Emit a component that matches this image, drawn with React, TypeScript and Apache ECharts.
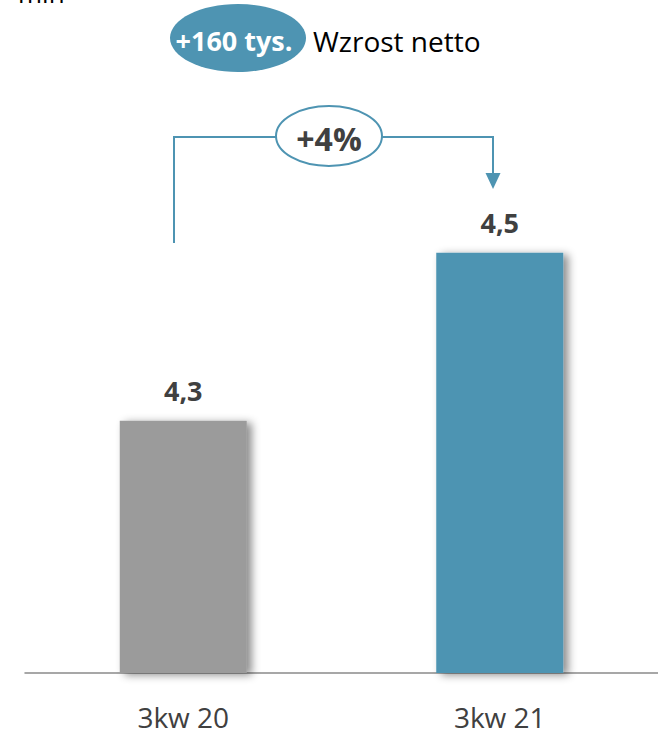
import React, { useEffect, useRef } from "react";
import * as echarts from "echarts";

const categories = ["3kw 20", "3kw 21"];
const values = [4.3, 4.5];
const valueLabels = ["4,3", "4,5"];
const barColors = ["#9b9b9b", "#4e94b2"];
const unitLabel = "mln";
const badgeText = "+160 tys.";
const badgeCaption = "Wzrost netto";
const changeText = "+4%";

const TEAL = "#4e94b2";
const DARK = "#404040";
const FONT = "'Open Sans', 'Noto Sans', sans-serif";

export default function App() {
  const ref = useRef<HTMLDivElement>(null);
  useEffect(() => {
    if (!ref.current) return;
    const chart = echarts.init(ref.current, undefined, { renderer: "svg" });
    chart.setOption({
      animation: false,
      grid: { left: 25, right: 0, top: 168.6, bottom: 56 },
      xAxis: {
        type: "category",
        data: categories,
        axisLine: { lineStyle: { color: "#8a8a8a", width: 1.5 } },
        axisTick: { show: false },
        axisLabel: { color: DARK, fontSize: 28, lineHeight: 24, fontFamily: FONT, margin: 32 },
      },
      yAxis: {
        type: "value",
        min: 4.0,
        max: 4.6,
        show: false,
      },
      series: [
        {
          type: "bar",
          barWidth: 127,
          data: values.map((v, i) => ({
            value: v,
            itemStyle: {
              color: barColors[i],
              shadowColor: "rgba(0,0,0,0.45)",
              shadowBlur: 8,
              shadowOffsetX: 5,
              shadowOffsetY: 2,
            },
            label: { formatter: valueLabels[i] },
          })),
          label: {
            show: true,
            position: "top",
            distance: 17,
            color: DARK,
            fontSize: 27,
            fontWeight: "bold",
            fontFamily: FONT,
          },
        },
      ],
      graphic: [
        {
          type: "text",
          x: 18,
          y: -7,
          style: {
            text: unitLabel,
            fontSize: 26,
            fontFamily: FONT,
            fill: "#000",
            align: "left",
            verticalAlign: "middle",
          },
        },
        {
          type: "ellipse",
          shape: { cx: 238, cy: 38, rx: 68, ry: 34 },
          style: { fill: TEAL },
        },
        {
          type: "text",
          x: 234,
          y: 40,
          style: {
            text: badgeText,
            fontSize: 27,
            fontWeight: "bold",
            fontFamily: FONT,
            fill: "#fff",
            align: "center",
            verticalAlign: "middle",
          },
        },
        {
          type: "text",
          x: 313,
          y: 41,
          style: {
            text: badgeCaption,
            fontSize: 28,
            fontFamily: FONT,
            fill: "#000",
            align: "left",
            verticalAlign: "middle",
          },
        },
        {
          type: "polyline",
          shape: { points: [[174, 243], [174, 137], [277, 137]] },
          style: { stroke: TEAL, lineWidth: 2, fill: null },
        },
        {
          type: "polyline",
          shape: { points: [[381, 137], [493, 137], [493, 174]] },
          style: { stroke: TEAL, lineWidth: 2, fill: null },
        },
        {
          type: "polygon",
          shape: { points: [[485.5, 173], [500.5, 173], [493, 189]] },
          style: { fill: TEAL },
        },
        {
          type: "ellipse",
          shape: { cx: 329, cy: 136, rx: 53, ry: 30 },
          style: { fill: "#fff", stroke: TEAL, lineWidth: 2 },
        },
        {
          type: "text",
          x: 329,
          y: 138,
          style: {
            text: changeText,
            fontSize: 32,
            fontWeight: "bold",
            fontFamily: FONT,
            fill: DARK,
            align: "center",
            verticalAlign: "middle",
          },
        },
      ],
    });
    return () => chart.dispose();
  }, []);
  return <div ref={ref} style={{ width: 658, height: 731, position: "absolute", left: 0, top: 0 }} />;
}
